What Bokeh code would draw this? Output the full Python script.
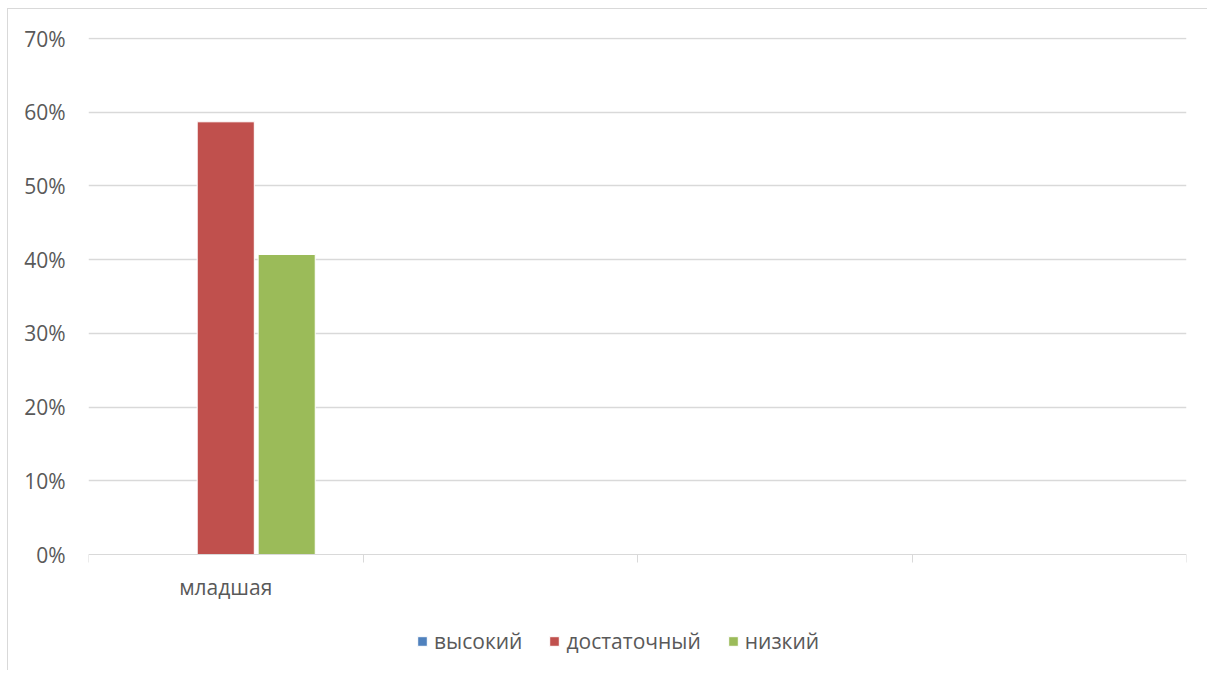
from bokeh.plotting import figure
from bokeh.models import Range1d, FixedTicker, NumeralTickFormatter, Legend, LegendItem
from bokeh.embed import file_html
from bokeh.resources import INLINE

categories = ["младшая", "", "", ""]
series = ["высокий", "достаточный", "низкий"]
vysokiy = [0.0]
dostatochny = [0.587]
nizkiy = [0.407]
colors = ["#4F81BD", "#C0504D", "#9BBB59"]
y_ticks = [0.0, 0.1, 0.2, 0.3, 0.4, 0.5, 0.6, 0.7]

FONT = "Open Sans"
TXT = "#595959"
GRID = "#D9D9D9"
FS = "21px"

W, H = 1200, 662
p = figure(width=W, height=H, output_backend="svg", toolbar_location=None,
           x_range=Range1d(0, len(categories)), y_range=Range1d(-0.15872, 0.70136),
           min_border_left=80, min_border_right=22, min_border_top=28, min_border_bottom=0,
           margin=(8, 0, 0, 7),
           styles={"border-left": "1px solid #D9D9D9", "border-top": "1px solid #D9D9D9"})
p.outline_line_color = None
p.background_fill_color = "white"
p.border_fill_color = "white"

# x axis (drawn at y = 0 inside the frame)
p.xaxis.fixed_location = 0
p.xaxis.ticker = FixedTicker(ticks=[i + 0.5 for i in range(len(categories))],
                             minor_ticks=list(range(len(categories) + 1)))
p.xaxis.major_label_overrides = {i + 0.5: c for i, c in enumerate(categories)}
p.xaxis.axis_line_color = GRID
p.xaxis.major_tick_line_color = None
p.xaxis.major_tick_out = 0
p.xaxis.major_tick_in = 0
p.xaxis.minor_tick_line_color = GRID
p.xaxis.minor_tick_out = 8
p.xaxis.minor_tick_in = 0
p.xaxis.major_label_text_font = FONT
p.xaxis.major_label_text_font_size = FS
p.xaxis.major_label_text_color = TXT
p.xaxis.major_label_standoff = 10

# y axis
p.yaxis.ticker = FixedTicker(ticks=y_ticks)
p.yaxis.formatter = NumeralTickFormatter(format="0%")
p.yaxis.axis_line_color = None
p.yaxis.major_tick_line_color = None
p.yaxis.major_tick_out = 0
p.yaxis.major_tick_in = 0
p.yaxis.minor_tick_line_color = None
p.yaxis.major_label_text_font = FONT
p.yaxis.major_label_text_font_size = FS
p.yaxis.major_label_text_color = TXT
p.yaxis.major_label_standoff = 23

p.xgrid.visible = False
p.ygrid.ticker = FixedTicker(ticks=y_ticks[1:])
p.ygrid.grid_line_color = GRID
p.ygrid.grid_line_width = 1.3

offsets = [-0.222, 0.0, 0.222]
data = [vysokiy, dostatochny, nizkiy]
renderers = []
for s, vals, col, off in zip(series, data, colors, offsets):
    xs = [i + 0.5 + off for i in range(len(vals))]
    r = p.vbar(x=xs, top=vals, bottom=0, width=0.208, fill_color=col,
               line_color="white", line_width=1)
    renderers.append(r)

legend = Legend(items=[LegendItem(label=s, renderers=[r]) for s, r in zip(series, renderers)],
                orientation="horizontal", location=(328, 16),
                glyph_width=12, glyph_height=12, label_standoff=6, spacing=26,
                padding=0, margin=0, border_line_color=None, background_fill_alpha=0,
                label_text_font=FONT, label_text_font_size=FS, label_text_color=TXT)
p.add_layout(legend, "center")

open("out.html", "w").write(file_html(p, INLINE))
